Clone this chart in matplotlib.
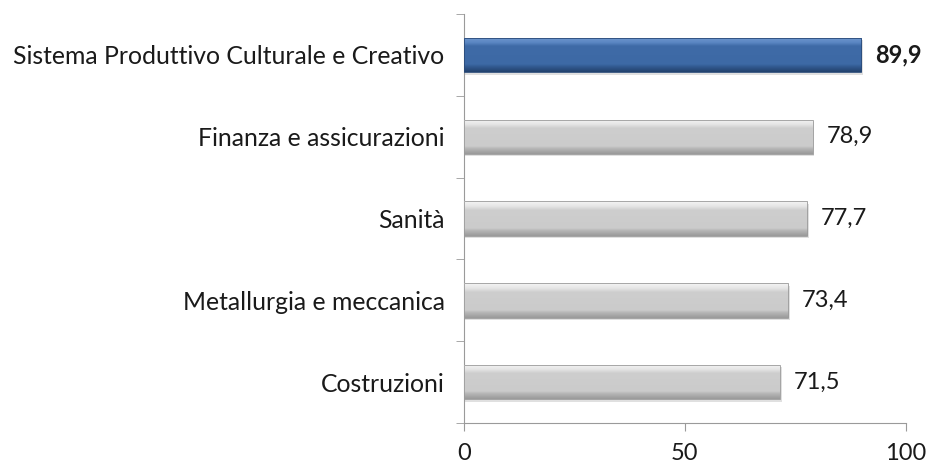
import matplotlib
matplotlib.use("Agg")
import matplotlib.pyplot as plt
import numpy as np
from matplotlib.colors import LinearSegmentedColormap

categories = [
    "Costruzioni",
    "Metallurgia e meccanica",
    "Sanità",
    "Finanza e assicurazioni",
    "Sistema Produttivo Culturale e Creativo",
]
values = [71.5, 73.4, 77.7, 78.9, 89.9]
highlight = [False, False, False, False, True]
xticks = [0, 50, 100]

plt.rcParams["font.family"] = ["Lato", "DejaVu Sans"]

fig = plt.figure(figsize=(9.28, 4.67), dpi=100)
ax = fig.add_axes([0.5, 0.094, 0.476, 0.876])

y = np.arange(len(categories))
h = 0.42
blue = LinearSegmentedColormap.from_list("b", [(0, "#23426e"), (0.15, "#325a91"), (0.22, "#3d69a5"),
                                               (0.75, "#3f6ba7"), (0.85, "#5a86c2"), (1, "#6f98cf")])
gray = LinearSegmentedColormap.from_list("g", [(0, "#9a9a9a"), (0.15, "#b6b6b6"), (0.22, "#cbcbcb"),
                                               (0.75, "#cecece"), (0.85, "#e4e4e4"), (1, "#f4f4f4")])

bars = ax.barh(y, values, height=h, color="none", edgecolor="none", zorder=3)
grad = np.linspace(0, 1, 64).reshape(-1, 1)
for b, v, hl in zip(bars, values, highlight):
    x0, y0 = b.get_x(), b.get_y()
    # soft drop shadow
    ax.barh(y0 + h / 2 - 0.03, v + 0.4, height=h, color="#000000", alpha=0.12,
            edgecolor="none", zorder=2)
    im = ax.imshow(grad, cmap=blue if hl else gray, aspect="auto", origin="lower",
                   extent=(x0, x0 + v, y0, y0 + h), zorder=3)
    im.set_clip_path(b)
    ax.barh(y0 + h / 2, v, height=h, color="none",
            edgecolor="#2a4a78" if hl else "#9a9a9a", linewidth=0.6, zorder=4)
    ax.annotate(f"{v:.1f}".replace(".", ","), (v, y0 + h / 2),
                xytext=(10, 0), textcoords="offset points", va="center", ha="left",
                fontsize=17, fontweight="bold" if hl else "normal", color="#1a1a1a")

ax.set_xlim(0, 100)
ax.set_ylim(-0.5, len(categories) - 0.5)
ax.set_xticks(xticks)
ax.set_xticklabels([str(t) for t in xticks], fontsize=17, color="#1a1a1a")
ax.set_yticks(y)
ax.set_yticklabels(categories, fontsize=17.8, color="#1a1a1a")
ax.set_yticks(np.arange(-0.5, len(categories)), minor=True)

for s in ["top", "right"]:
    ax.spines[s].set_visible(False)
for s in ["left", "bottom"]:
    ax.spines[s].set_color("#9a9a9a")
ax.tick_params(axis="y", which="major", length=0, pad=14)
ax.tick_params(axis="y", which="minor", length=6, color="#9a9a9a")
ax.tick_params(axis="x", length=6, color="#9a9a9a", pad=8)

fig.savefig("out.png", dpi=100)
